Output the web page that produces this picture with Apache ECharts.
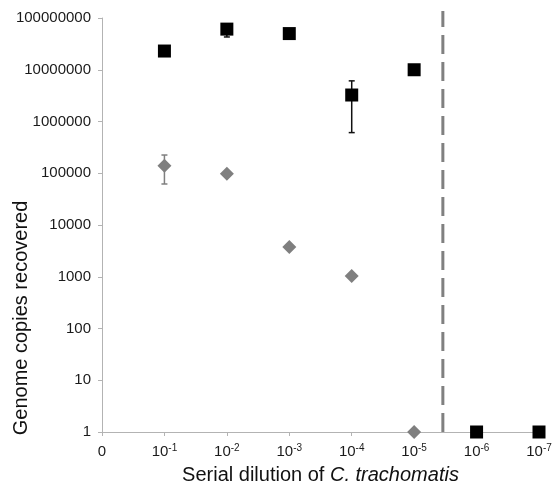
<!DOCTYPE html>
<html><head><meta charset="utf-8">
<script src="https://cdn.jsdelivr.net/npm/echarts@6/dist/echarts.min.js"></script>
<style>html,body{margin:0;padding:0;background:#fff}#c{width:553px;height:484px}</style>
</head><body><div id="c"></div>
<script>
// x positions: 0 = undiluted origin, 1..7 = 10^-1 .. 10^-7
const xTickExponents = ['0', '-1', '-2', '-3', '-4', '-5', '-6', '-7'];

const squareX = [1, 2, 3, 4, 5, 6, 7];
const squareY = [2.3e7, 6.1e7, 5.0e7, 3.25e6, 1.0e7, 1, 1];
const squareErrX = [2, 4];
const squareErrLow = [4.3e7, 6.1e5];
const squareErrHigh = [6.5e7, 6.1e6];

const diamondX = [1, 2, 3, 4, 5];
const diamondY = [1.4e5, 9.8e4, 3760, 1030, 1];
const diamondErrX = [1];
const diamondErrLow = [6.2e4];
const diamondErrHigh = [2.25e5];

const cutoffX = 5.46;
const cutoffRange = [1, 1.36e8];

const yMin = 1, yMax = 1e8;

const pairs = (xs, ys) => xs.map((x, i) => [x, ys[i]]);
const triples = (xs, lo, hi) => xs.map((x, i) => [x, lo[i], hi[i]]);

function errRender(color) {
  return function (params, api) {
    const x = api.value(0), lo = api.value(1), hi = api.value(2);
    const p1 = api.coord([x, lo]), p2 = api.coord([x, hi]);
    const cap = 3;
    const st = { stroke: color, lineWidth: 1.5 };
    return {
      type: 'group', children: [
        { type: 'line', shape: { x1: p1[0], y1: p1[1], x2: p2[0], y2: p2[1] }, style: st },
        { type: 'line', shape: { x1: p1[0] - cap, y1: p1[1], x2: p1[0] + cap, y2: p1[1] }, style: st },
        { type: 'line', shape: { x1: p2[0] - cap, y1: p2[1], x2: p2[0] + cap, y2: p2[1] }, style: st }
      ]
    };
  };
}

const chart = echarts.init(document.getElementById('c'), null, { renderer: 'canvas' });
const FONT = 'Liberation Sans, Arial, Helvetica, sans-serif';

chart.setOption({
  animation: false,
  backgroundColor: '#fff',
  grid: { left: 102, right: 14, top: 18, bottom: 52, containLabel: false, outerBoundsMode: 'none' },
  xAxis: {
    type: 'value', min: 0, max: 7, interval: 1,
    axisLine: { show: true, lineStyle: { color: '#b3b3b3', width: 1 } },
    axisTick: { show: true, length: 4, lineStyle: { color: '#b3b3b3' } },
    splitLine: { show: false },
    axisLabel: {
      margin: 11,
      color: '#1a1a1a',
      fontFamily: FONT,
      fontSize: 15,
      formatter: function (v) {
        const e = xTickExponents[Math.round(v)];
        if (e === '0') return '{b|0}';
        return '{b|10}{s|' + e + '}';
      },
      rich: {
        b: { fontSize: 15, fontFamily: FONT, color: '#1a1a1a', lineHeight: 18 },
        s: { fontSize: 10, fontFamily: FONT, color: '#1a1a1a', lineHeight: 18, padding: [0, 0, 8, 0] }
      }
    },
    name: '{n|Serial dilution of }{i|C. trachomatis}',
    nameLocation: 'middle',
    nameGap: 33,
    nameTextStyle: {
      rich: {
        n: { fontSize: 20, fontFamily: FONT, color: '#111' },
        i: { fontSize: 20, fontFamily: FONT, color: '#111', fontStyle: 'italic' }
      }
    }
  },
  yAxis: {
    type: 'log', logBase: 10, min: yMin, max: yMax, splitNumber: 8,
    axisLine: { show: true, lineStyle: { color: '#b3b3b3', width: 1 } },
    axisTick: { show: true, length: 4, lineStyle: { color: '#b3b3b3' } },
    minorTick: { show: false },
    splitLine: { show: false },
    axisLabel: {
      margin: 11,
      color: '#1a1a1a',
      fontFamily: FONT,
      fontSize: 15,
      formatter: function (v) { return String(Math.round(v)); }
    }
  },
  graphic: [{
    type: 'text',
    x: 21, y: 318,
    rotation: Math.PI / 2,
    style: {
      text: 'Genome copies recovered',
      font: '20px ' + FONT,
      fill: '#111',
      textAlign: 'center',
      textVerticalAlign: 'middle'
    }
  }],
  series: [
    {
      type: 'line', data: pairs([cutoffX, cutoffX], cutoffRange),
      symbol: 'none', clip: false, silent: true,
      lineStyle: { color: '#808080', width: 3, type: [19, 8] }, z: 1
    },
    {
      type: 'custom', renderItem: errRender('#7f7f7f'),
      data: triples(diamondErrX, diamondErrLow, diamondErrHigh),
      encode: { x: 0, y: [1, 2] }, clip: false, z: 2
    },
    {
      type: 'custom', renderItem: errRender('#111'),
      data: triples(squareErrX, squareErrLow, squareErrHigh),
      encode: { x: 0, y: [1, 2] }, clip: false, z: 2
    },
    {
      type: 'scatter', data: pairs(diamondX, diamondY),
      symbol: 'diamond', symbolSize: 14, clip: false,
      itemStyle: { color: '#7f7f7f', opacity: 1 }, z: 3
    },
    {
      type: 'scatter', data: pairs(squareX, squareY),
      symbol: 'rect', symbolSize: 13, clip: false,
      itemStyle: { color: '#000', opacity: 1 }, z: 4
    }
  ]
});
</script>
</body></html>
